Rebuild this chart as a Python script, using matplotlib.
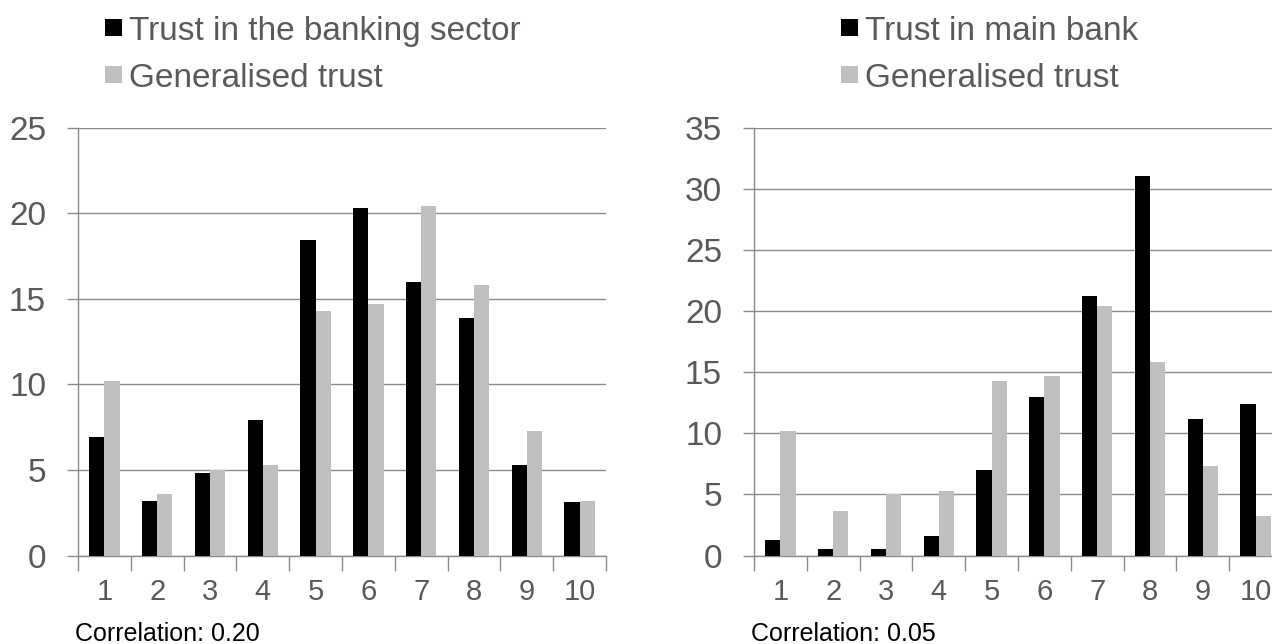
import matplotlib
matplotlib.use("Agg")
import matplotlib.pyplot as plt
from matplotlib.patches import Rectangle
import numpy as np

categories = [1, 2, 3, 4, 5, 6, 7, 8, 9, 10]
trust_banking_sector = [6.9, 3.2, 4.8, 7.9, 18.4, 20.3, 16.0, 13.9, 5.3, 3.1]
generalised_trust = [10.2, 3.6, 5.0, 5.3, 14.3, 14.7, 20.4, 15.8, 7.3, 3.2]
trust_main_bank = [1.3, 0.5, 0.55, 1.6, 7.0, 13.0, 21.2, 31.0, 11.2, 12.4]

left_yticks = [0, 5, 10, 15, 20, 25]
right_yticks = [0, 5, 10, 15, 20, 25, 30, 35]
left_series_label = 'Trust in the banking sector'
right_series_label = 'Trust in main bank'
generalised_label = 'Generalised trust'
corr_left = "Correlation: 0.20"
corr_right = "Correlation: 0.05"

plt.rcParams['font.family'] = ['Liberation Sans', 'DejaVu Sans']
TXT = '#595959'
GRID = '#8c8c8c'
BLACK = '#000000'
GREY = '#bfbfbf'

W, H = 1272, 644
fig = plt.figure(figsize=(W / 100, H / 100), dpi=100)


def fx(px):
    return px / W


def fy(py):
    return 1 - py / H


def panel(x0, s1, s2, yticks):
    ax = fig.add_axes([fx(x0), fy(555.5), fx(528), 428 / H])
    x = np.array(categories, dtype=float)
    w = 0.286
    ax.bar(x - w / 2, s1, width=w, color=BLACK, zorder=3)
    ax.bar(x + w / 2, s2, width=w, color=GREY, zorder=3)
    ax.set_xlim(0.5, 10.5)
    ax.set_ylim(0, yticks[-1])
    ax.set_yticks(yticks)
    ax.set_yticklabels([str(t) for t in yticks])
    ax.yaxis.grid(True, color=GRID, linewidth=1.0, zorder=0)
    ax.set_xticks(np.arange(0.5, 11.0, 1.0))
    ax.set_xticklabels([])
    ax.set_xticks(x, minor=True)
    ax.set_xticklabels([str(c) for c in categories], minor=True)
    ax.tick_params(axis='x', which='major', length=11, color=GRID, width=1)
    ax.tick_params(axis='x', which='minor', length=0, pad=16, labelsize=21, labelcolor=TXT)
    ax.tick_params(axis='y', length=8, color=GRID, width=1, pad=15, labelsize=24, labelcolor=TXT)
    for s in ['top', 'right']:
        ax.spines[s].set_visible(False)
    for s in ['left', 'bottom']:
        ax.spines[s].set_color(GRID)
        ax.spines[s].set_linewidth(1.0)
    return ax


def legend(sq_x, labels, colors):
    baselines = [40, 87]
    for lab, col, base in zip(labels, colors, baselines):
        sq = 17
        top = base - 21
        fig.patches.append(Rectangle((fx(sq_x), fy(top + sq)), fx(sq), sq / H,
                                     transform=fig.transFigure, facecolor=col,
                                     edgecolor='none'))
        fig.text(fx(sq_x + sq + 7), fy(base), lab, fontsize=24, color=TXT,
                 ha='left', va='baseline')


axl = panel(78, trust_banking_sector, generalised_trust, left_yticks)
axr = panel(754, trust_main_bank, generalised_trust, right_yticks)

legend(105, [left_series_label, generalised_label], [BLACK, GREY])
legend(841, [right_series_label, generalised_label], [BLACK, GREY])

fig.text(fx(75), fy(641), corr_left, fontsize=18, color='black', ha='left', va='baseline')
fig.text(fx(751), fy(641), corr_right, fontsize=18, color='black', ha='left', va='baseline')

fig.savefig('out.png', dpi=100)
